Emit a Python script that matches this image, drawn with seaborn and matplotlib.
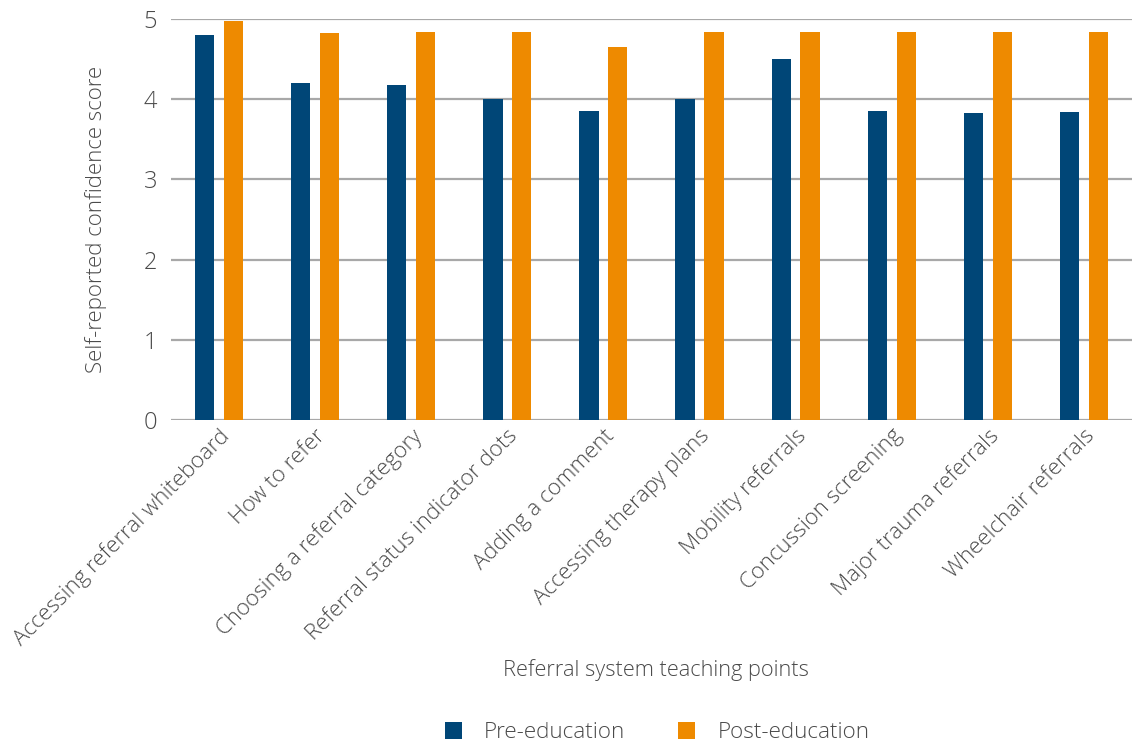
import matplotlib
matplotlib.use("Agg")
import matplotlib.pyplot as plt
import seaborn as sns
import pandas as pd

categories = [
    "Accessing referral whiteboard",
    "How to refer",
    "Choosing a referral category",
    "Referral status indicator dots",
    "Adding a comment",
    "Accessing therapy plans",
    "Mobility referrals",
    "Concussion screening",
    "Major trauma referrals",
    "Wheelchair referrals",
]
pre_education = [4.81, 4.20, 4.18, 4.00, 3.85, 4.01, 4.50, 3.85, 3.83, 3.84]
post_education = [4.98, 4.83, 4.84, 4.84, 4.66, 4.84, 4.84, 4.84, 4.84, 4.84]
series_names = ["Pre-education", "Post-education"]
y_ticks = [0, 1, 2, 3, 4, 5]

df = pd.DataFrame({
    "point": categories * 2,
    "score": pre_education + post_education,
    "group": [series_names[0]] * len(categories) + [series_names[1]] * len(categories),
})

sns.set_theme(style="white")
plt.rcParams["font.family"] = ["Open Sans", "DejaVu Sans"]
text_color = "#4a4a4a"

fig = plt.figure(figsize=(11.32, 7.44), dpi=100)
ax = fig.add_axes([0.151, 0.436, 0.849, 0.538])

sns.barplot(
    data=df, x="point", y="score", hue="group", order=categories,
    hue_order=series_names, palette=["#004677", "#ee8a00"],
    width=0.6, gap=1 / 3, saturation=1, linewidth=0, ax=ax, legend=True,
)

ax.set_ylim(0, 5)
ax.set_xlim(-0.5, len(categories) - 0.5)
ax.set_yticks(y_ticks)
ax.set_yticklabels([str(t) for t in y_ticks], fontsize=17, color=text_color, fontweight="light")
ax.yaxis.grid(True, color="#a8a8a8", linewidth=1.6)
ax.set_axisbelow(True)
for s in ax.spines.values():
    s.set_visible(False)
ax.tick_params(axis="both", length=0, pad=10)
ax.tick_params(axis="x", pad=4)

ax.set_xticks(range(len(categories)))
ax.set_xticklabels(categories, rotation=45, ha="right", rotation_mode="anchor",
                   fontsize=16, color=text_color, fontweight="light")

ax.set_ylabel("Self-reported confidence score", fontsize=16, color=text_color,
              fontweight="light", labelpad=26)
ax.set_xlabel("")
fig.text(0.5795, 0.099, "Referral system teaching points", ha="center", va="center",
         fontsize=15.7, color=text_color, fontweight="light")

sns.move_legend(
    ax, "center", bbox_to_anchor=(0.5805, 0.015), bbox_transform=fig.transFigure,
    ncol=2, frameon=False, title=None, fontsize=16.2, handlelength=0.75,
    handleheight=0.75, handletextpad=1.0, columnspacing=2.35,
)
for t in ax.get_legend().get_texts():
    t.set_color(text_color)
    t.set_fontweight("light")

fig.savefig("out.png", dpi=100, facecolor="white")
